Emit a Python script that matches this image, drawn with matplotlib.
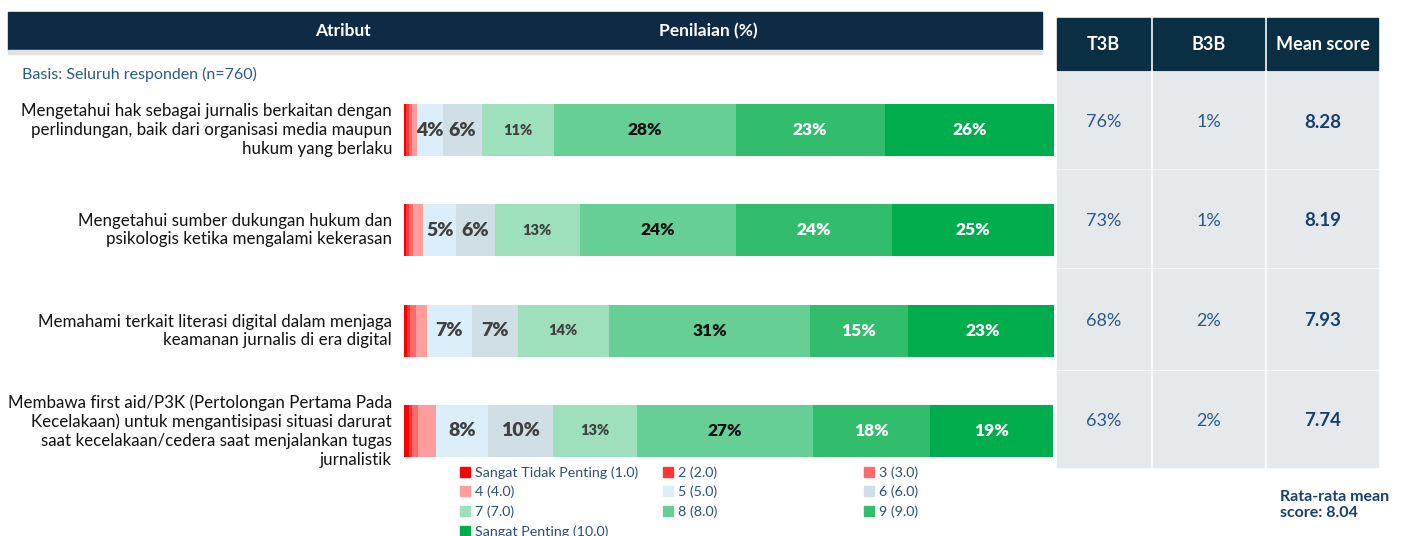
import matplotlib.pyplot as plt
from matplotlib.patches import Rectangle, Patch
import numpy as np

plt.rcParams['font.family'] = ['Lato', 'DejaVu Sans']

# attributes (row labels), top to bottom
attributes = [
    "Mengetahui hak sebagai jurnalis berkaitan dengan\nperlindungan, baik dari organisasi media maupun\nhukum yang berlaku",
    "Mengetahui sumber dukungan hukum dan\npsikologis ketika mengalami kekerasan",
    "Memahami terkait literasi digital dalam menjaga\nkeamanan jurnalis di era digital",
    "Membawa first aid/P3K (Pertolongan Pertama Pada\nKecelakaan) untuk mengantisipasi situasi darurat\nsaat kecelakaan/cedera saat menjalankan tugas\njurnalistik",
]
scale_labels = ["Sangat Tidak Penting (1.0)", "2 (2.0)", "3 (3.0)", "4 (4.0)", "5 (5.0)",
                "6 (6.0)", "7 (7.0)", "8 (8.0)", "9 (9.0)", "Sangat Penting (10.0)"]
colors = ["#ff0000", "#ff3535", "#ff6a6a", "#ff9c9c", "#dbeefa",
          "#d0dee6", "#9ee0bb", "#66cf95", "#31bd6c", "#00ad4c"]

# percentage per score 1..10 for each attribute
score_1 = [0.3, 0.3, 0.4, 0.7]
score_2 = [0.4, 0.5, 0.6, 0.6]
score_3 = [0.6, 0.6, 0.8, 0.8]
score_4 = [0.7, 1.6, 1.7, 2.8]
score_5 = [4, 5, 7, 8]
score_6 = [6, 6, 7, 10]
score_7 = [11, 13, 14, 13]
score_8 = [28, 24, 31, 27]
score_9 = [23, 24, 15, 18]
score_10 = [26, 25, 23, 19]
scores = [score_1, score_2, score_3, score_4, score_5,
          score_6, score_7, score_8, score_9, score_10]

t3b = ["76%", "73%", "68%", "63%"]
b3b = ["1%", "1%", "2%", "2%"]
mean_score = ["8.28", "8.19", "7.93", "7.74"]
avg_mean = "8.04"

W, H = 1401, 536
fig = plt.figure(figsize=(W / 100, H / 100), dpi=100)

# background axes in pixel units for header/table decoration
bg = fig.add_axes([0, 0, 1, 1])
bg.set_xlim(0, W)
bg.set_ylim(H, 0)
bg.axis("off")

navy = "#0f2a45"
bg.add_patch(Rectangle((8, 12), 1034, 38, color=navy))
bg.add_patch(Rectangle((8, 50), 1034, 4, color="#dfe3e6"))
bg.text(343, 31, "Atribut", color="white", fontsize=12.5, fontweight="bold", ha="center", va="center")
bg.text(708, 31, "Penilaian (%)", color="white", fontsize=12.5, fontweight="bold", ha="center", va="center")
bg.text(22, 74, "Basis: Seluruh responden (n=760)", color="#2a5a8c", fontsize=11.5, ha="left", va="center")

row_y = [130, 230, 331, 431]
for y, lab in zip(row_y, attributes):
    bg.text(392, y, lab, fontsize=12.2, ha="right", va="center", linespacing=1.22, color="#111111")

# right table
col_x = [(1057, 93), (1153, 111), (1267, 111)]
headers = ["T3B", "B3B", "Mean score"]
tbl_head = "#0b2f42"
cell = "#e6e9ec"
row_top = [72, 170, 269, 371]
row_h = [96, 97, 100, 96]
for (x, w), h in zip(col_x, headers):
    bg.add_patch(Rectangle((x, 18), w, 52, color=tbl_head))
    bg.text(x + w / 2, 45, h, color="white", fontsize=13, fontweight="bold", ha="center", va="center")
for i in range(4):
    for (x, w) in col_x:
        bg.add_patch(Rectangle((x, row_top[i]), w, row_h[i], color=cell))
    cy = row_top[i] + row_h[i] / 2 + 2
    bg.text(col_x[0][0] + col_x[0][1] / 2, cy, t3b[i], color="#2a5a8c", fontsize=13, ha="center", va="center")
    bg.text(col_x[1][0] + col_x[1][1] / 2, cy, b3b[i], color="#2a5a8c", fontsize=13, ha="center", va="center")
    bg.text(col_x[2][0] + col_x[2][1] / 2, cy, mean_score[i], color="#173f6e", fontsize=13.5,
            fontweight="bold", ha="center", va="center")
bg.text(1280, 505, "Rata-rata mean\nscore: " + avg_mean, color="#173f6e", fontsize=11.5,
        fontweight="bold", ha="left", va="center", linespacing=1.1)

# bar axes
ax = fig.add_axes([404 / W, (H - 481) / H, 650 / W, 401 / H])
ax.set_xlim(0, 100)
ax.set_ylim(3.5, -0.5)
ax.axis("off")

ypos = np.arange(len(attributes))
left = np.zeros(len(attributes))
label_style = {
    4: ("#404040", 14), 5: ("#404040", 14), 6: ("#404040", 10.5),
    7: ("#111111", 12.5), 8: ("white", 12.5), 9: ("white", 12.5),
}
for k, vals in enumerate(scores):
    vals = np.array(vals, dtype=float)
    ax.barh(ypos, vals, left=left, height=0.52, color=colors[k], label=scale_labels[k])
    if k in label_style:
        c, fs = label_style[k]
        for j, v in enumerate(vals):
            ax.text(left[j] + v / 2, ypos[j], f"{v:.0f}%", color=c, fontsize=fs,
                    fontweight="heavy", ha="center", va="center")
    left += vals

# legend: 3 columns, filled row by row, one legend per column
col_starts = [460, 663, 864]
for c, xs in enumerate(col_starts):
    idx = [i for i in range(len(scale_labels)) if i % 3 == c]
    leg = fig.legend([Patch(color=colors[i]) for i in idx], [scale_labels[i] for i in idx],
                     loc="upper left", bbox_to_anchor=(xs / W, 1 - 466 / H),
                     frameon=False, fontsize=10.3,
                     handlelength=0.7, handleheight=0.7, handletextpad=0.35,
                     labelspacing=0.5, borderaxespad=0, borderpad=0)
    for t in leg.get_texts():
        t.set_color("#2a4f7a")

fig.savefig("out.png", dpi=100)
